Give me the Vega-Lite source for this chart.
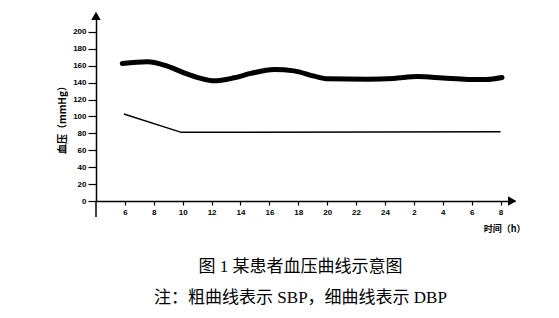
{
  "$schema": "https://vega.github.io/schema/vega-lite/v6.json",
  "width": 419,
  "height": 186,
  "autosize": "none",
  "padding": {"left": 96, "top": 15, "right": 44, "bottom": 117},
  "background": "white",
  "config": {"view": {"stroke": null}, "font": "Liberation Sans"},
  "datasets": {
    "bp": [
      {"series": "SBP", "hour": 5.82, "bp": 162.7},
      {"series": "SBP", "hour": 7.55, "bp": 164.6},
      {"series": "SBP", "hour": 8.94, "bp": 159.5},
      {"series": "SBP", "hour": 10.09, "bp": 151.6},
      {"series": "SBP", "hour": 11.25, "bp": 145},
      {"series": "SBP", "hour": 12.17, "bp": 142.1},
      {"series": "SBP", "hour": 13.55, "bp": 145.7},
      {"series": "SBP", "hour": 14.71, "bp": 150.9},
      {"series": "SBP", "hour": 16.33, "bp": 155.6},
      {"series": "SBP", "hour": 17.71, "bp": 153.9},
      {"series": "SBP", "hour": 19.1, "bp": 147.7},
      {"series": "SBP", "hour": 20.03, "bp": 144.5},
      {"series": "SBP", "hour": 22.8, "bp": 144.1},
      {"series": "SBP", "hour": 24.6, "bp": 145},
      {"series": "SBP", "hour": 26.26, "bp": 147.2},
      {"series": "SBP", "hour": 28, "bp": 145.5},
      {"series": "SBP", "hour": 29.73, "bp": 143.8},
      {"series": "SBP", "hour": 31.0, "bp": 143.6},
      {"series": "SBP", "hour": 32.1, "bp": 146},
      {"series": "DBP", "hour": 5.93, "bp": 102.8},
      {"series": "DBP", "hour": 9.9, "bp": 81.2},
      {"series": "DBP", "hour": 32, "bp": 82}
    ],
    "arrows": [
      {"hour": 4, "bp": 219, "dir": "y"},
      {"hour": 32.8, "bp": 0, "dir": "x"}
    ],
    "axisext": [
      {"hour": 4, "bp": 0, "bp2": -19}
    ]
  },
  "title": {
    "text": ["图 1   某患者血压曲线示意图", "注：粗曲线表示 SBP，细曲线表示 DBP"],
    "orient": "bottom",
    "anchor": "middle",
    "fontSize": 17,
    "fontWeight": "normal",
    "lineHeight": 31,
    "font": "Liberation Serif, Noto Sans CJK SC",
    "color": "black",
    "offset": 26,
    "dx": -5
  },
  "encoding": {
    "x": {
      "field": "hour", "type": "quantitative",
      "scale": {"domain": [4, 33], "nice": false, "zero": false},
      "axis": {
        "values": [6, 8, 10, 12, 14, 16, 18, 20, 22, 24, 26, 28, 30, 32],
        "labelExpr": "datum.value > 24 ? datum.value - 24 : datum.value",
        "labelOverlap": false,
        "grid": false, "tickSize": 4, "tickColor": "black", "tickWidth": 1.2,
        "domainColor": "black", "domainWidth": 1.5,
        "labelFontSize": 8, "labelFontWeight": "bold", "labelColor": "black", "labelPadding": 3,
        "title": "时间（h）", "titleX": 408, "titleY": 27, "titleBaseline": "middle",
        "titleFontSize": 9, "titleFontWeight": "bold", "titleFont": "Noto Sans CJK SC", "titleColor": "black"
      }
    },
    "y": {
      "field": "bp", "type": "quantitative",
      "scale": {"domain": [0, 220], "nice": false},
      "axis": {
        "values": [0, 20, 40, 60, 80, 100, 120, 140, 160, 180, 200],
        "labelOverlap": false,
        "grid": false, "tickSize": 8, "tickColor": "black", "tickWidth": 1.2,
        "domainColor": "black", "domainWidth": 1.5,
        "labelFontSize": 8, "labelFontWeight": "bold", "labelColor": "black", "labelPadding": 2,
        "title": "血压（mmHg）", "titleX": -34, "titleY": 102, "titleBaseline": "middle",
        "titleFontSize": 10, "titleFontWeight": "bold", "titleFont": "Noto Sans CJK SC", "titleColor": "black"
      }
    }
  },
  "layer": [
    {
      "data": {"name": "bp"},
      "transform": [{"filter": "datum.series === 'SBP'"}],
      "mark": {"type": "line", "color": "black", "strokeWidth": 5, "interpolate": "monotone", "strokeCap": "round"}
    },
    {
      "data": {"name": "bp"},
      "transform": [{"filter": "datum.series === 'DBP'"}],
      "mark": {"type": "line", "color": "black", "strokeWidth": 1.5}
    },
    {
      "data": {"name": "axisext"},
      "mark": {"type": "rule", "color": "black", "strokeWidth": 1.5},
      "encoding": {
        "y2": {"field": "bp2"}
      }
    },
    {
      "data": {"name": "arrows"},
      "mark": {"type": "point", "filled": true, "color": "black", "opacity": 1, "size": 90},
      "encoding": {
        "shape": {"field": "dir", "type": "nominal", "scale": {"domain": ["x", "y"], "range": ["triangle-right", "triangle-up"]}, "legend": null}
      }
    }
  ]
}
